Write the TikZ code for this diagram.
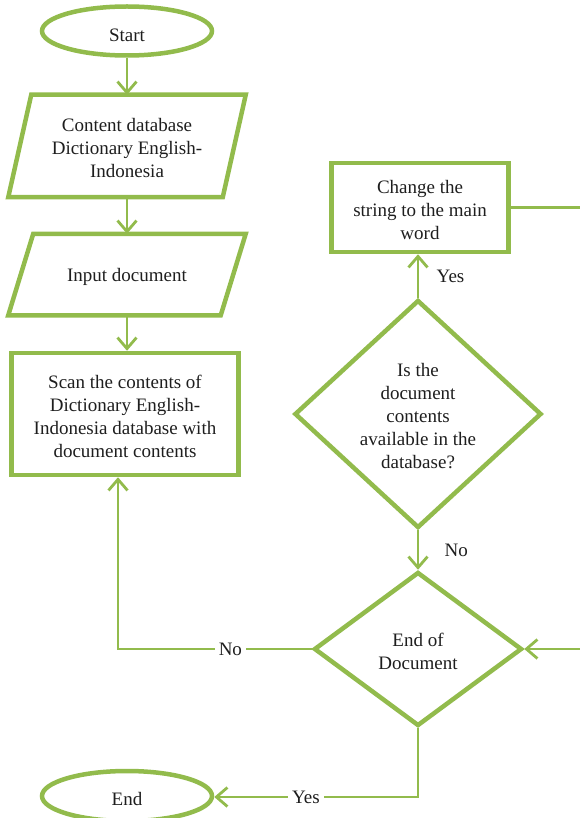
\documentclass[tikz,border=0pt]{standalone}
\usepackage{fontspec}
\setmainfont{Liberation Serif}
\usetikzlibrary{shapes.geometric,arrows.meta}
\definecolor{fg}{RGB}{146,187,76}
\definecolor{txt}{RGB}{30,30,30}
\begin{document}
\begin{tikzpicture}[x=1pt,y=-1pt,
  every node/.style={font=\fontsize{19}{23}\selectfont, text=txt},
  shp/.style={draw=fg, line width=4.5pt, inner sep=0pt},
  term/.style={shp, ellipse, minimum width=170pt, minimum height=49pt},
  proc/.style={shp, rectangle},
  dec/.style={shp, diamond},
  iobox/.style={inner sep=0pt, outer sep=2.25pt},
  iodraw/.style={draw=fg, line width=4.5pt, line join=miter},
  tx/.style={align=center, inner sep=0pt, yshift=-2.5pt},
  line/.style={draw=fg, line width=2.8pt},
  arr/.style={line, -{Straight Barb[length=11pt, width=19pt]}},
  lbl/.style={fill=white, inner sep=4pt}
]
\useasboundingbox (0,0) rectangle (580,818);

% terminals
\node[term] (start) at (127,31) {};
\node[tx, yshift=-1.5pt] (startt) at (start) {Start};
\node[term, minimum height=50pt] (end) at (127,796) {};
\node[tx] (endt) at (end) {End};

% input/output parallelograms
\node[iobox, minimum width=210pt, minimum height=98pt] (p1) at (127,146) {};
\draw[iodraw] ([xshift=11.5pt]p1.north west) -- ([xshift=11.5pt]p1.north east)
  -- ([xshift=-11.5pt]p1.south east) -- ([xshift=-11.5pt]p1.south west) -- cycle;
\node[tx] (p1t) at (p1) {Content database\\Dictionary English-\\Indonesia};

\node[iobox, minimum width=208pt, minimum height=77pt] (p2) at (127,274.5) {};
\draw[iodraw] ([xshift=12.5pt]p2.north west) -- ([xshift=12.5pt]p2.north east)
  -- ([xshift=-12.5pt]p2.south east) -- ([xshift=-12.5pt]p2.south west) -- cycle;
\node[tx] (p2t) at (p2) {Input document};

% processes
\node[proc, minimum width=227pt, minimum height=122pt] (scan) at (125,414) {};
\node[tx] (scant) at (scan)
  {Scan the contents of\\Dictionary English-\\Indonesia database with\\document contents};
\node[proc, minimum width=177pt, minimum height=89pt] (chg) at (420,207.5) {};
\node[tx] (chgt) at (chg) {Change the\\string to the main\\word};

% decisions
\node[dec, minimum width=247pt, minimum height=228pt] (q) at (418,414) {};
\node[tx, yshift=0.5pt] (qt) at (q) {Is the\\document\\contents\\available in the\\database?};
\node[dec, minimum width=208pt, minimum height=154pt] (ed) at (418,649) {};
\node[tx] (edt) at (ed) {End of\\Document};

% helper coordinates
\coordinate (lp) at (118,649);
\coordinate (dn) at (418,797);
\coordinate (rr) at (600,0);

% connectors
\draw[arr] (start.south) -- (p1.north);
\draw[arr] (p1.south) -- (p2.north);
\draw[arr] (p2.south) -- (p2.south |- scan.north);
\draw[arr] (q.north) -- node[anchor=west, xshift=14pt] {Yes} (q.north |- chg.south);
\draw[arr] (q.south) -- node[anchor=west, xshift=22pt] {No} (ed.north);
\draw[arr] (ed.west) -- node[lbl, pos=0.42] {No} (lp) -- (lp |- scan.south);
\draw[arr] (ed.south) -- (dn) -- node[lbl, pos=0.55] {Yes} (dn -| end.east);
\draw[arr] (chg.east) -- (chg.east -| rr) -- (ed.east -| rr) -- (ed.east);
\end{tikzpicture}
\end{document}
